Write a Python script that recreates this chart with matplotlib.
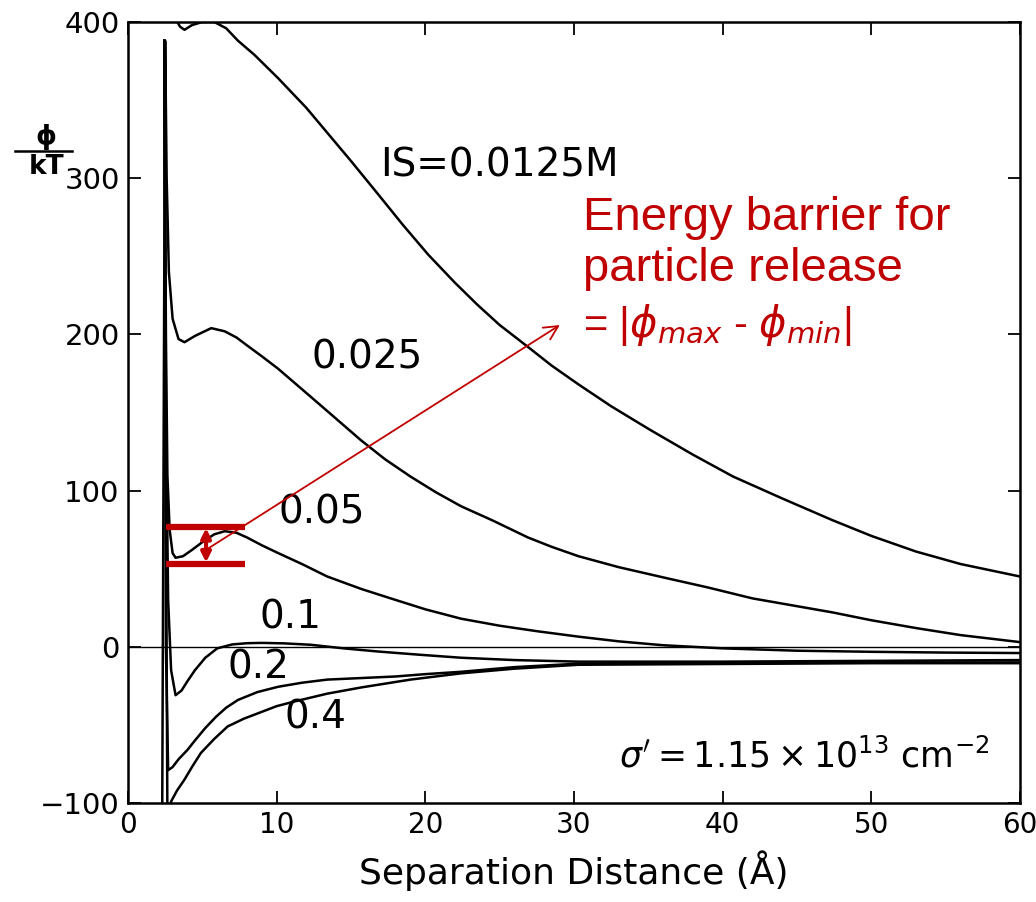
import matplotlib
matplotlib.use("Agg")
import matplotlib.pyplot as plt

# Interaction energy curves
x_0125 = [3.2, 3.5, 3.8, 4.3, 5.0, 5.8, 6.6, 7.4, 8.5, 10.1, 12.0, 13.5, 15.0, 16.8, 18.5,
          20.2, 22.0, 23.5, 25.0, 26.9, 28.5, 30.3, 32.5, 35.1, 38.0, 40.7, 44.0, 47.4,
          50.0, 53.0, 56.0, 60.0]
y_0125 = [402, 397, 395, 398, 400, 400, 396, 388, 379, 364, 345, 328, 311, 290, 270,
          251, 233, 219, 206, 192, 180, 168, 154, 139, 123, 109, 95, 81,
          71, 61, 53, 45]

x_025 = [2.3, 2.5, 2.6, 2.75, 3.0, 3.4, 3.8, 4.5, 5.6, 6.5, 7.3, 8.0, 9.0, 10.1, 11.2,
         12.3, 14.0, 15.7, 17.3, 19.0, 20.7, 22.4, 24.5, 26.9, 28.5, 30.3, 33.0, 36.2,
         39.0, 42.0, 45.0, 47.4, 50.0, 53.0, 56.0, 60.0]
y_025 = [-110, 388, 300, 240, 210, 197, 195, 199, 204, 202, 198, 193, 186, 178, 169,
         160, 146, 132, 120, 109, 99, 90, 81, 70, 64, 58, 51, 44,
         38, 31, 26, 22, 17, 12, 7.5, 3]

x_05 = [2.45, 2.55, 2.65, 2.8, 3.0, 3.2, 3.7, 4.3, 5.0, 5.8, 6.5, 7.3, 8.0, 9.0, 10.1,
        11.7, 13.4, 15.7, 18.0, 20.0, 22.4, 25.0, 27.5, 30.3, 33.0, 36.0, 40.0, 45.0,
        50.0, 55.0, 60.0]
y_05 = [388, 200, 110, 75, 60, 57, 58, 62, 67, 72, 74, 73, 70, 65, 60,
        53, 45, 37, 30, 24, 18, 13.5, 10, 6.5, 3.5, 1, -1, -2.5,
        -3.2, -3.7, -4]

x_1 = [2.45, 2.55, 2.7, 2.9, 3.2, 3.6, 4.0, 4.5, 5.2, 6.0, 7.0, 8.0, 9.0, 10.5, 12.3,
       14.5, 16.8, 19.5, 22.4, 26.0, 30.3, 40.0, 50.0, 60.0]
y_1 = [388, 150, 30, -15, -31, -28, -22, -15, -7, -1, 1.5, 2.3, 2.5, 2.2, 1.3,
       -1, -3, -5, -7, -8.5, -9.5, -9.5, -9, -8.5]

x_2 = [2.45, 2.5, 2.55, 2.7, 3.0, 3.4, 4.0, 4.5, 5.2, 5.9, 6.6, 7.4, 8.7, 10.1, 11.7,
       13.4, 15.7, 18.0, 20.0, 22.4, 26.0, 30.3, 40.0, 50.0, 60.0]
y_2 = [388, 150, 0, -79, -77, -72, -66, -60, -52, -45, -39, -34, -29, -25.6, -23,
       -21, -20, -19, -17.5, -16, -13, -10.8, -10, -10, -10]

x_4 = [2.45, 2.55, 2.65, 2.9, 3.3, 3.8, 4.3, 4.9, 5.8, 6.7, 7.8, 8.9, 10.0, 11.2, 13.4,
       15.7, 19.0, 22.4, 26.0, 30.3, 40.0, 50.0, 60.0]
y_4 = [388, 100, -110, -99, -92, -85, -77, -68, -59, -51, -46, -42, -38, -35, -30,
       -26, -21, -17, -14, -11.5, -11, -10.5, -10.5]

curves = [(x_0125, y_0125), (x_025, y_025), (x_05, y_05), (x_1, y_1), (x_2, y_2), (x_4, y_4)]

# curve labels: text, x, y
labels = [("IS=0.0125M", 25.0, 308), ("0.025", 16.1, 185), ("0.05", 13.0, 86),
          ("0.1", 10.9, 18.6), ("0.2", 8.8, -13), ("0.4", 12.6, -45.4)]

red = "#C00000"

fig = plt.figure(figsize=(10.36, 9.02), dpi=100)
ax = fig.add_axes([128 / 1036, 1 - 803 / 902, 892 / 1036, 781 / 902])

for xs, ys in curves:
    ax.plot(xs, ys, color="black", lw=1.8, solid_joinstyle="round")
ax.axhline(0, color="black", lw=1.0)

ax.set_xlim(0, 60)
ax.set_ylim(-100, 400)
ax.set_xticks(range(0, 61, 10))
ax.set_yticks(range(-100, 401, 100))
ax.tick_params(direction="in", length=9, width=1.3, top=True, right=True, pad=6)
ax.tick_params(axis="x", labelsize=20)
ax.tick_params(axis="y", labelsize=21)
for s in ax.spines.values():
    s.set_linewidth(1.8)
ax.set_xlabel("Separation Distance (Å)", fontsize=26, labelpad=8)

for txt, lx, ly in labels:
    ax.text(lx, ly, txt, fontsize=28, ha="center", va="center")

ax.text(45.5, -70.4, r"$\sigma' = 1.15 \times 10^{13}\ \mathrm{cm}^{-2}$",
        fontsize=25, ha="center", va="center")

# y label as a fraction phi / kT
fig.text(46 / 1036, 1 - 137 / 902, "ϕ", fontsize=19, ha="center", va="center",
         fontweight="bold")
fig.add_artist(plt.Line2D([15 / 1036, 72 / 1036], [1 - 151 / 902, 1 - 151 / 902],
                          color="black", lw=1.8))
fig.text(47 / 1036, 1 - 167 / 902, "kT", fontsize=19, ha="center", va="center",
         fontweight="bold")

# red barrier markers
ax.plot([2.55, 7.9], [76.8, 76.8], color=red, lw=4.5, solid_capstyle="butt")
ax.plot([2.55, 7.9], [53, 53], color=red, lw=4.5, solid_capstyle="butt")
ax.annotate("", xy=(5.25, 54), xytext=(5.25, 76),
            arrowprops=dict(arrowstyle="<|-|>", color=red, lw=3, mutation_scale=14,
                            shrinkA=0, shrinkB=0))
ax.annotate("", xy=(29.05, 206), xytext=(5.4, 63),
            arrowprops=dict(arrowstyle="->", color=red, lw=1.3, mutation_scale=25,
                            shrinkA=0, shrinkB=0))

fig.text(583 / 1036, 1 - 230 / 902, "Energy barrier for", color=red, fontsize=34,
         family="Liberation Sans", va="baseline")
fig.text(583 / 1036, 1 - 281 / 902, "particle release", color=red, fontsize=34,
         family="Liberation Sans", va="baseline")
fig.text(583 / 1036, 1 - 337 / 902, r"= |$\phi_{max}$ - $\phi_{min}$|", color=red,
         fontsize=30, family="Liberation Sans", va="baseline")

fig.savefig("out.png", dpi=100)
